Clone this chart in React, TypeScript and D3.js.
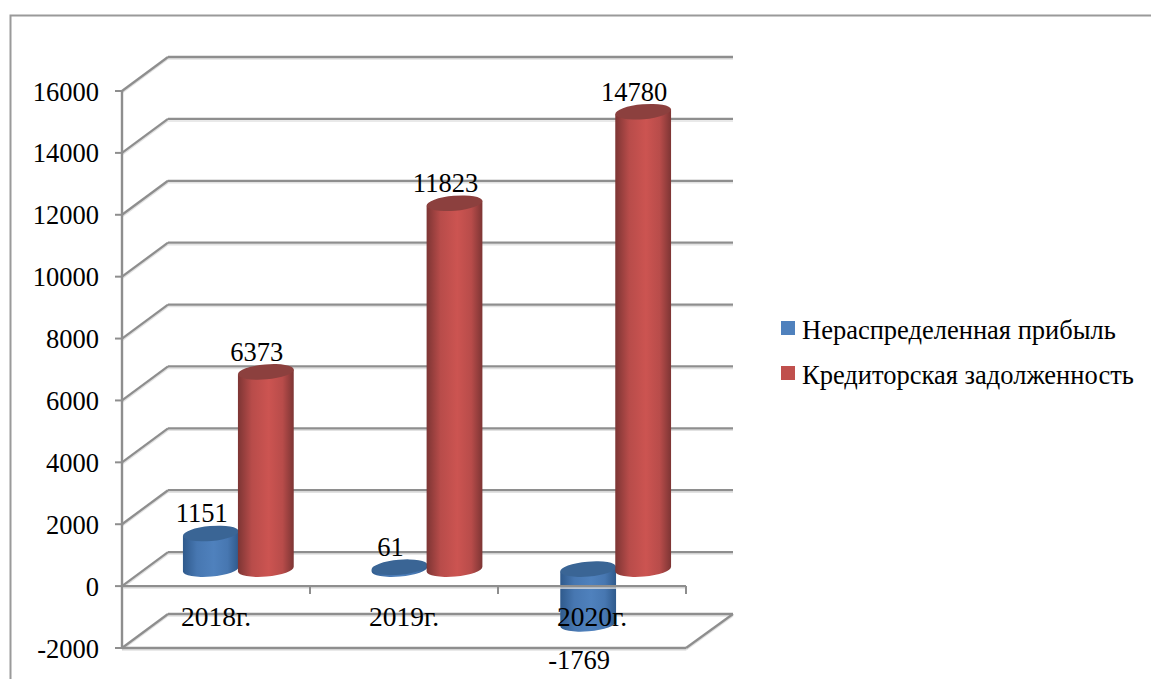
import React from "react";
import * as d3 from "d3";

const categories = ["2018г.", "2019г.", "2020г."];
const seriesNames = ["Нераспределенная прибыль", "Кредиторская задолженность"];
const retainedEarnings = [1151, 61, -1769];
const accountsPayable = [6373, 11823, 14780];
const yTicks = [-2000, 0, 2000, 4000, 6000, 8000, 10000, 12000, 14000, 16000];

const WIDTH = 1151;
const HEIGHT = 679;
const GRID = "#8e8e8e";
const GRID_SOFT = "#e2e2e2";
const FONT = "'Liberation Serif', 'Times New Roman', serif";
const FONT_SIZE = 26.5;

// Front plane of the 3D box and the depth shift of its back wall.
const FRONT_LEFT = 122;
const FRONT_RIGHT = 686;
const DEPTH_X = 46;
const DEPTH_Y = -34;
// The cylinders stand roughly halfway into the box.
const BAR_PLANE_X = 22;
const BAR_PLANE_Y = -17;

const yFront = d3.scaleLinear().domain([-2000, 16000]).range([648, 91]);
const xFront = d3.scaleBand<string>().domain(categories).range([FRONT_LEFT, FRONT_RIGHT]);
const xBars = d3
  .scaleBand<string>()
  .domain(categories)
  .range([FRONT_LEFT + BAR_PLANE_X, FRONT_RIGHT + BAR_PLANE_X + 2]);

const BAR_RX = 28;
const BAR_RY = 7.5;
const TILT = -5;
const tiltRad = (TILT * Math.PI) / 180;

const palettes = [
  { id: "cylBlue", edge: "#2f5a8c", mid: "#4f81bd", top: "#3a6595", swatch: "#4f81bd" },
  { id: "cylRed", edge: "#7d3534", mid: "#cc5451", top: "#8c403e", swatch: "#c0504d" },
];

function cylinderBody(cx: number, yTop: number, yBottom: number): string {
  const dx = BAR_RX * Math.cos(tiltRad);
  const dy = BAR_RX * Math.sin(tiltRad);
  const p = `${BAR_RX} ${BAR_RY} ${TILT}`;
  return [
    `M${cx - dx},${yTop - dy}`,
    `L${cx + dx},${yTop + dy}`,
    `L${cx + dx},${yBottom + dy}`,
    `A${p} 0 1 ${cx - dx},${yBottom - dy}`,
    "Z",
  ].join(" ");
}

function Cylinder({ cx, value, palette }: { cx: number; value: number; palette: (typeof palettes)[number] }) {
  const y0 = yFront(0) + BAR_PLANE_Y;
  const yv = yFront(value) + BAR_PLANE_Y;
  const yTop = Math.min(y0, yv);
  const yBottom = Math.max(y0, yv);
  return (
    <g>
      <path d={cylinderBody(cx, yTop, yBottom)} fill={`url(#${palette.id})`} />
      <ellipse
        cx={cx}
        cy={yTop}
        rx={BAR_RX}
        ry={BAR_RY}
        fill={palette.top}
        transform={`rotate(${TILT} ${cx} ${yTop})`}
      />
    </g>
  );
}

function GridLine(props: { x1: number; y1: number; x2: number; y2: number }) {
  return (
    <g>
      <line {...props} y1={props.y1 + 2} y2={props.y2 + 2} stroke={GRID_SOFT} strokeWidth={1.5} />
      <line {...props} stroke={GRID} strokeWidth={2.3} />
    </g>
  );
}

export default function App() {
  const series = [retainedEarnings, accountsPayable];
  const barOffset = [-27.5, 27.5];
  return (
    <svg
      width={WIDTH}
      height={HEIGHT}
      viewBox={`0 0 ${WIDTH} ${HEIGHT}`}
      style={{ position: "absolute", left: 0, top: 0, background: "#fff" }}
      fontFamily={FONT}
      fontSize={FONT_SIZE}
    >
      <defs>
        {palettes.map((p) => (
          <linearGradient key={p.id} id={p.id} x1="0" x2="1" y1="0" y2="0">
            <stop offset="0" stopColor={p.edge} />
            <stop offset="0.25" stopColor={d3.interpolateRgb(p.edge, p.mid)(0.75)} />
            <stop offset="0.55" stopColor={p.mid} />
            <stop offset="0.8" stopColor={d3.interpolateRgb(p.edge, p.mid)(0.75)} />
            <stop offset="1" stopColor={p.edge} />
          </linearGradient>
        ))}
      </defs>

      {/* outer chart frame, cut off by the right and bottom edges */}
      <path d={`M10.5,${HEIGHT} V15.5 H${WIDTH}`} fill="none" stroke="#9a9a9a" strokeWidth={2} />

      {/* back wall gridlines and the left wall diagonals */}
      {yTicks.map((t) => (
        <g key={t}>
          <GridLine
            x1={FRONT_LEFT + DEPTH_X}
            x2={FRONT_RIGHT + DEPTH_X + 1}
            y1={yFront(t) + DEPTH_Y}
            y2={yFront(t) + DEPTH_Y}
          />
          <GridLine
            x1={FRONT_LEFT}
            x2={FRONT_LEFT + DEPTH_X}
            y1={yFront(t)}
            y2={yFront(t) + DEPTH_Y}
          />
          <line x1={FRONT_LEFT - 7} x2={FRONT_LEFT} y1={yFront(t)} y2={yFront(t)} stroke={GRID} strokeWidth={2} />
        </g>
      ))}

      {/* floor outline below the zero plane */}
      <GridLine x1={FRONT_LEFT} x2={FRONT_RIGHT} y1={yFront(-2000)} y2={yFront(-2000)} />
      <GridLine
        x1={FRONT_RIGHT}
        x2={FRONT_RIGHT + DEPTH_X + 1}
        y1={yFront(-2000)}
        y2={yFront(-2000) + DEPTH_Y}
      />

      {/* cylinders, blue first so that the red ones overlap them */}
      {categories.map((c, i) =>
        series.map((values, s) => (
          <Cylinder
            key={`${c}-${s}`}
            cx={(xBars(c) as number) + xBars.bandwidth() / 2 + barOffset[s]}
            value={values[i]}
            palette={palettes[s]}
          />
        )),
      )}

      {/* front axes lie over the bars */}
      <line x1={FRONT_LEFT} x2={FRONT_LEFT} y1={yFront(16000)} y2={yFront(-2000)} stroke={GRID} strokeWidth={2.4} />
      <GridLine x1={FRONT_LEFT} x2={FRONT_RIGHT} y1={yFront(0)} y2={yFront(0)} />
      {[...categories.map((c) => xFront(c) as number), FRONT_RIGHT].map((x) => (
        <line key={x} x1={x} x2={x} y1={yFront(0)} y2={yFront(0) + 8} stroke={GRID} strokeWidth={2} />
      ))}

      {/* value axis labels */}
      {yTicks.map((t) => (
        <text key={t} x={99} y={yFront(t) + 9.5} textAnchor="end" fill="#000">
          {t}
        </text>
      ))}

      {/* category labels */}
      {categories.map((c) => (
        <text
          key={c}
          x={(xFront(c) as number) + xFront.bandwidth() / 2}
          y={626}
          textAnchor="middle"
          fontSize={27.5}
          fill="#000"
        >
          {c}
        </text>
      ))}

      {/* data labels */}
      {categories.map((c, i) =>
        series.map((values, s) => {
          const v = values[i];
          const cx = (xBars(c) as number) + xBars.bandwidth() / 2 + barOffset[s];
          const yBar = yFront(v) + BAR_PLANE_Y;
          return (
            <text
              key={`${c}-${s}-label`}
              x={cx - 9}
              y={v < 0 ? yBar + 45 : yBar - 11}
              textAnchor="middle"
              fill="#000"
            >
              {v}
            </text>
          );
        }),
      )}

      {/* legend */}
      {seriesNames.map((name, s) => (
        <g key={name}>
          <rect x={781} y={321 + s * 45} width={14} height={14} fill={palettes[s].swatch} />
          <text x={802} y={339 + s * 45} fill="#000">
            {name}
          </text>
        </g>
      ))}
    </svg>
  );
}
